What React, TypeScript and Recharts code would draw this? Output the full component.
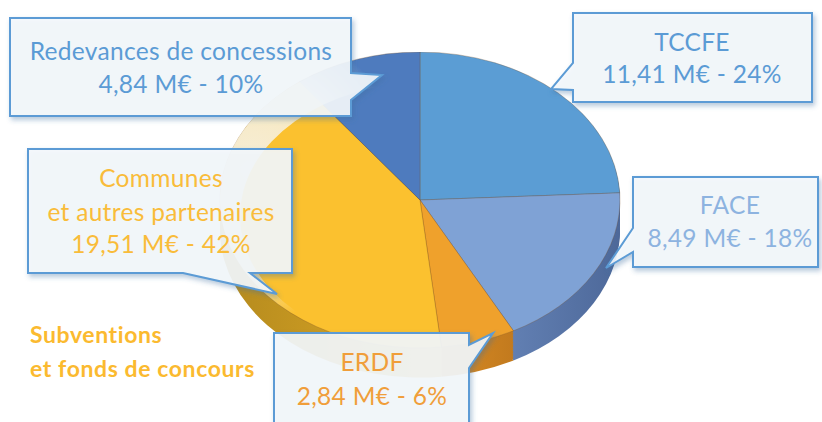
import { PieChart, Pie, Cell } from "recharts";

// Recettes d'investissement, clockwise from 12 o'clock
const sources = ["TCCFE", "FACE", "ERDF", "Communes", "Redevances"];
const amounts = [11.41, 8.49, 2.84, 19.51, 4.84]; // M€
const shares = [24, 18, 6, 42, 10]; // %
const topColors = ["#5B9DD4", "#7FA2D5", "#EFA12C", "#FBC12F", "#4E7BBE"];
const sideColors = ["#4A82BC", "#7393C8", "#DF9026", "#E0AA26", "#3F67A3"];
const sideDark = ["#3A6698", "#4D6899", "#C27A1E", "#B48A1E", "#32548A"];

const pieData = sources.map((name, i) => ({ name, value: amounts[i] }));

const SCALE_Y = 0.74;
const DEPTH = 40; // unscaled px of extrusion
const layers: number[] = [];
for (let off = DEPTH; off > 0; off -= 2) layers.push(off);

const FONT = "Lato, 'Open Sans', sans-serif";
const BLUE = "#5B9BD5";

const fmt = (i: number) =>
  `${amounts[i].toFixed(2).replace(".", ",")} M€ - ${shares[i]}%`;

const callouts = [
  {
    d: "M10,18 H351 V73 L382,75 L351,100 V116 H10 Z",
    lines: ["Redevances de concessions", fmt(4)],
    x: 181,
    y: [60, 93],
    color: "#5B9BD5",
  },
  {
    d: "M573,13 H812 V102 H573 V90 L551,89 L573,63 Z",
    lines: ["TCCFE", fmt(0)],
    x: 692,
    y: [51, 83],
    color: "#5B9BD5",
  },
  {
    d: "M28,149 H292 V273 H250 L277,294 L183,273 H28 Z",
    lines: ["Communes", "et autres partenaires", fmt(3)],
    x: 161,
    y: [187, 221, 253],
    color: "#F9BC3A",
  },
  {
    d: "M633,177 H818 V267 H633 V252 L606,268 L633,228 Z",
    lines: ["FACE", fmt(1)],
    x: 730,
    y: [214, 247],
    color: "#8DB3E0",
  },
  {
    d: "M274,333 H469 V345 L493,333 L469,368 V445 H274 Z",
    lines: ["ERDF", fmt(2)],
    x: 372,
    y: [371, 405],
    color: "#F09E3A",
  },
];

export default function App() {
  return (
    <div
      style={{
        position: "absolute",
        left: 0,
        top: 0,
        width: 822,
        height: 422,
        overflow: "hidden",
        background: "#ffffff",
        fontFamily: FONT,
      }}
    >
      <div
        style={{
          position: "absolute",
          left: 210,
          top: 52,
          transform: `scaleY(${SCALE_Y})`,
          transformOrigin: "top left",
        }}
      >
        <PieChart width={420} height={460} margin={{ top: 0, right: 0, bottom: 0, left: 0 }}>
          <defs>
            {sideColors.map((c, i) => (
              <linearGradient key={i} id={`side-${i}`} x1="0" y1="0" x2="1" y2="0">
                <stop offset="0%" stopColor={i === 3 ? sideDark[i] : c} />
                <stop offset="100%" stopColor={i === 3 ? c : sideDark[i]} />
              </linearGradient>
            ))}
          </defs>
          {layers.map((off) => (
            <Pie
              key={off}
              data={pieData}
              dataKey="value"
              cx={210}
              cy={200 + off}
              outerRadius={200}
              startAngle={90}
              endAngle={-270}
              stroke="none"
              isAnimationActive={false}
            >
              {pieData.map((_, i) => (
                <Cell key={i} fill={`url(#side-${i})`} />
              ))}
            </Pie>
          ))}
          <Pie
            data={pieData}
            dataKey="value"
            cx={210}
            cy={200}
            outerRadius={200}
            startAngle={90}
            endAngle={-270}
            stroke="rgba(120,80,40,0.35)"
            strokeWidth={1}
            isAnimationActive={false}
          >
            {pieData.map((_, i) => (
              <Cell key={i} fill={topColors[i]} />
            ))}
          </Pie>
        </PieChart>
      </div>

      <svg
        width={822}
        height={422}
        style={{ position: "absolute", left: 0, top: 0 }}
      >
        <defs>
          <filter id="shadow" x="-10%" y="-10%" width="130%" height="140%">
            <feDropShadow dx="2" dy="3" stdDeviation="2.5" floodColor="#3C6EA0" floodOpacity="0.4" />
          </filter>
          <radialGradient id="glare" cx="250" cy="170" r="150" gradientUnits="userSpaceOnUse">
            <stop offset="0%" stopColor="#F6F3EA" stopOpacity="0.9" />
            <stop offset="65%" stopColor="#F6F3EA" stopOpacity="0.75" />
            <stop offset="100%" stopColor="#F6F3EA" stopOpacity="0" />
          </radialGradient>
        </defs>
        {/* pale bevel highlight on the upper-left rim */}
        <path
          d="M220,200 A200,148 0 1,1 620,200 A200,148 0 1,1 220,200 Z M240,216 A188,134 0 1,0 616,216 A188,134 0 1,0 240,216 Z"
          fill="url(#glare)"
          fillRule="evenodd"
        />
        {callouts.map((c, i) => (
          <g key={i}>
            <path
              d={c.d}
              fill="rgba(244,248,252,0.9)"
              stroke={BLUE}
              strokeWidth={2}
              filter="url(#shadow)"
            />
            {c.lines.map((t, j) => (
              <text
                key={j}
                x={c.x}
                y={c.y[j]}
                textAnchor="middle"
                fontFamily={FONT}
                fontSize={24.5}
                letterSpacing={0.3}
                fill={c.color}
              >
                {t}
              </text>
            ))}
          </g>
        ))}
        <text x={30} y={343} fontFamily={FONT} fontSize={23} letterSpacing={0.6} fontWeight="bold" fill="#FBBA2F">
          Subventions
        </text>
        <text x={30} y={377} fontFamily={FONT} fontSize={23} letterSpacing={0.6} fontWeight="bold" fill="#FBBA2F">
          et fonds de concours
        </text>
      </svg>
    </div>
  );
}
